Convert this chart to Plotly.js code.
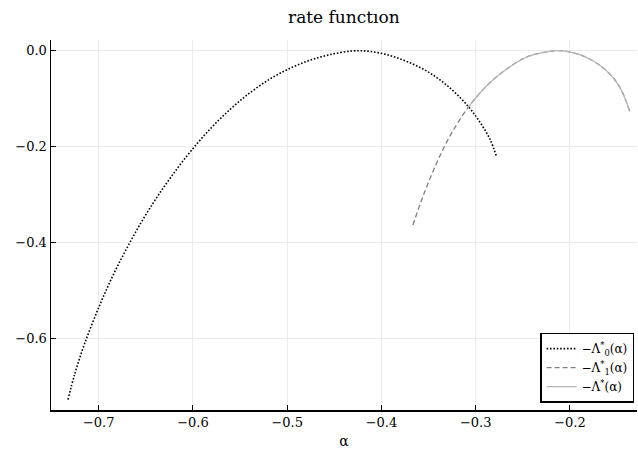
<!DOCTYPE html>
<html>
<head>
<meta charset="utf-8">
<script src="https://cdn.plot.ly/plotly-3.0.1.min.js"></script>
<style>html,body{margin:0;padding:0;background:#fff;}#plot{width:638px;height:453px;}</style>
</head>
<body>
<div id="plot"></div>
<script>
// -Λ0*(α)  (dotted black)
const alpha0 = [-0.7326, -0.7255, -0.7149, -0.6989, -0.6848, -0.6706, -0.6547, -0.6388, -0.6229, -0.6034,
  -0.5822, -0.5610, -0.5398, -0.5186, -0.4974, -0.4761, -0.4549, -0.4302, -0.4125, -0.3912,
  -0.3700, -0.3488, -0.3276, -0.3082, -0.2955, -0.2849, -0.2777];
const rate0 = [-0.727, -0.674, -0.610, -0.530, -0.468, -0.413, -0.357, -0.307, -0.262, -0.212,
  -0.164, -0.123, -0.088, -0.0593, -0.0370, -0.0200, -0.0083, -0.0005, -0.0014, -0.0099,
  -0.0250, -0.0462, -0.0772, -0.1155, -0.1490, -0.1845, -0.2220];

// -Λ1*(α)  (dashed gray)
const alpha1 = [-0.3666, -0.3560, -0.3419, -0.3276, -0.3082, -0.2886, -0.2674, -0.2462, -0.2250,
  -0.2106, -0.1930, -0.1755, -0.1573, -0.1454, -0.1366];
const rate1 = [-0.363, -0.3036, -0.2359, -0.1787, -0.1186, -0.0735, -0.0385, -0.0135, -0.0025,
  0.0, -0.0062, -0.0211, -0.0493, -0.0826, -0.1266];

// -Λ*(α)  (solid light gray)
const alphaS = [-0.3082, -0.2886, -0.2674, -0.2462, -0.2250, -0.2106, -0.1930, -0.1755, -0.1573, -0.1454, -0.1366];
const rateS = [-0.1186, -0.0735, -0.0385, -0.0135, -0.0025, 0.0, -0.0062, -0.0211, -0.0493, -0.0826, -0.1266];

const xTicks = [-0.7, -0.6, -0.5, -0.4, -0.3, -0.2];
const xTickText = ['\u22120.7', '\u22120.6', '\u22120.5', '\u22120.4', '\u22120.3', '\u22120.2'];
const yTicks = [0.0, -0.2, -0.4, -0.6];
const yTickText = ['0.0', '\u22120.2', '\u22120.4', '\u22120.6'];

const FONT = 'DejaVu Serif';

const traces = [
  {x: alpha0, y: rate0, mode: 'lines', line: {color: '#000000', width: 1.6, dash: '1.6px,1.8px', shape: 'spline', smoothing: 1},
   name: '\u2212\u039b<sup>*</sup><sub>0</sub>(\u03b1)'},
  {x: alpha1, y: rate1, mode: 'lines', line: {color: '#808080', width: 1.3, dash: '5px,3px', shape: 'spline', smoothing: 1},
   name: '\u2212\u039b<sup>*</sup><sub>1</sub>(\u03b1)'},
  {x: alphaS, y: rateS, mode: 'lines', line: {color: '#b4b4b4', width: 1.2, shape: 'spline', smoothing: 1},
   name: '\u2212\u039b<sup>*</sup>(\u03b1)'}
];

const layout = {
  width: 638, height: 453,
  margin: {l: 51, r: 1, t: 40, b: 43, pad: 0},
  paper_bgcolor: '#ffffff', plot_bgcolor: '#ffffff',
  font: {family: FONT, color: '#000000', size: 13},
  title: {text: 'rate func\u0074\u0131on', x: 0.539, xanchor: 'center', y: 0.962, yanchor: 'middle',
          font: {family: FONT, size: 17, color: '#000000'}},
  xaxis: {
    range: [-0.7506, -0.1289], tickvals: xTicks, ticktext: xTickText,
    showgrid: true, gridcolor: '#ebebeb', gridwidth: 1, zeroline: false,
    showline: true, linecolor: '#000000', linewidth: 1.5,
    ticks: 'inside', ticklen: 5, tickcolor: '#000000', tickwidth: 1,
    tickfont: {family: FONT, size: 13}, mirror: false,
    title: {text: '\u03b1', font: {family: FONT, size: 14}, standoff: 7}
  },
  yaxis: {
    range: [-0.7485, 0.0223], tickvals: yTicks, ticktext: yTickText,
    showgrid: true, gridcolor: '#ebebeb', gridwidth: 1, zeroline: false,
    showline: true, linecolor: '#000000', linewidth: 1.5,
    ticks: 'inside', ticklen: 5, tickcolor: '#000000', tickwidth: 1,
    tickfont: {family: FONT, size: 13}, mirror: false
  },
  showlegend: true,
  legend: {
    x: 0.995, xanchor: 'right', y: 0.02, yanchor: 'bottom',
    bordercolor: '#000000', borderwidth: 1.5, bgcolor: '#ffffff',
    font: {family: FONT, size: 12}, tracegroupgap: 0, itemwidth: 30
  }
};

Plotly.newPlot('plot', traces, layout, {displayModeBar: false, staticPlot: true});
</script>
</body>
</html>
